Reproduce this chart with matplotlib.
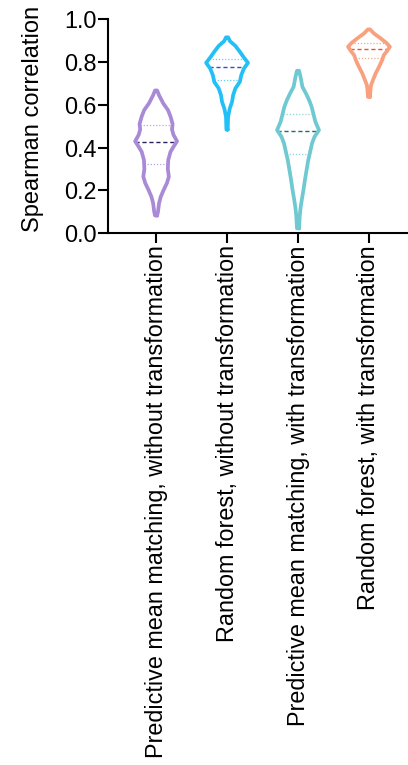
import numpy as np
import matplotlib
matplotlib.use('Agg')
import matplotlib.pyplot as plt

plt.rcParams['font.family'] = ['Liberation Sans', 'DejaVu Sans']

# Groups
LABELS = ['Predictive mean matching, without transformation',
          'Random forest, without transformation',
          'Predictive mean matching, with transformation',
          'Random forest, with transformation']
COLORS = ['#a88ad6', '#22c0f6', '#6fc9d0', '#f9a07e']
MED_COLORS = ['#2a1f5c', '#2e4fcf', '#1d6c6e', '#e6561f']
QRT_COLORS = ['#b9a2e6', '#60d2f6', '#8ed6da', '#f3a88c']

# Density profiles (value, relative density), bottom to top
pmm_raw_y = [0.083, 0.10, 0.14, 0.17, 0.20, 0.235, 0.265, 0.30, 0.342, 0.381, 0.404, 0.43,
             0.46, 0.485, 0.51, 0.545, 0.575, 0.607, 0.645, 0.667]
pmm_raw_d = [0.05, 0.09, 0.14, 0.22, 0.35, 0.52, 0.61, 0.56, 0.58, 0.69, 0.83, 1.00,
             0.83, 0.76, 0.79, 0.69, 0.57, 0.34, 0.14, 0.05]
rf_raw_y = [0.484, 0.544, 0.583, 0.614, 0.645, 0.677, 0.707, 0.739, 0.77, 0.796, 0.82,
            0.845, 0.875, 0.897, 0.915]
rf_raw_d = [0.03, 0.05, 0.13, 0.24, 0.29, 0.40, 0.61, 0.68, 0.81, 1.00, 0.81, 0.63,
            0.40, 0.14, 0.05]
pmm_tr_y = [0.023, 0.078, 0.117, 0.156, 0.202, 0.249, 0.296, 0.342, 0.381, 0.42, 0.451,
            0.482, 0.521, 0.56, 0.591, 0.622, 0.653, 0.684, 0.731, 0.759]
pmm_tr_d = [0.05, 0.08, 0.12, 0.18, 0.26, 0.33, 0.41, 0.49, 0.58, 0.67, 0.79,
            1.00, 0.83, 0.73, 0.65, 0.53, 0.38, 0.21, 0.12, 0.05]
rf_tr_y = [0.637, 0.669, 0.692, 0.715, 0.747, 0.777, 0.809, 0.832, 0.852, 0.871, 0.889,
           0.91, 0.933, 0.952]
rf_tr_d = [0.05, 0.07, 0.10, 0.19, 0.32, 0.48, 0.63, 0.71, 0.87, 1.00, 0.83,
           0.56, 0.24, 0.05]
PROFILE_Y = [pmm_raw_y, rf_raw_y, pmm_tr_y, rf_tr_y]
PROFILE_D = [pmm_raw_d, rf_raw_d, pmm_tr_d, rf_tr_d]

# Quartiles (Q1, median, Q3)
QUARTILES = [[0.323, 0.428, 0.507],
             [0.715, 0.775, 0.812],
             [0.370, 0.480, 0.558],
             [0.820, 0.860, 0.887]]

HALF_W = 0.295

fig = plt.figure(figsize=(4.08, 7.65), dpi=100)
ax = fig.add_axes([0.265, 0.695, 0.735, 0.280])

for i in range(len(LABELS)):
    y = np.array(PROFILE_Y[i])
    d = np.array(PROFILE_D[i])*HALF_W
    xs = np.concatenate([i+d, (i-d)[::-1], [i+d[0]]])
    ys = np.concatenate([y, y[::-1], [y[0]]])
    ax.plot(xs, ys, color=COLORS[i], lw=2.7, solid_joinstyle='round', solid_capstyle='round', zorder=3)
    for k, q in enumerate(QUARTILES[i]):
        w = np.interp(q, y, d)
        if k == 1:
            ax.plot([i-w, i+w], [q, q], color=MED_COLORS[i], lw=1.0, ls=(0, (3, 2)), zorder=2)
        else:
            ax.plot([i-w, i+w], [q, q], color=QRT_COLORS[i], lw=0.9, ls=(0, (1, 1.5)), zorder=2)

ax.set_xlim(-0.676, 3.55)
ax.set_ylim(0, 1.0)
ax.set_yticks(np.arange(0, 1.01, 0.2))
ax.set_yticklabels(['{:.1f}'.format(v) for v in np.arange(0, 1.01, 0.2)])
ax.set_xticks(range(len(LABELS)))
ax.set_xticklabels(LABELS, rotation=90, va='top', ha='center')
for s in ['top', 'right']:
    ax.spines[s].set_visible(False)
for s in ['left', 'bottom']:
    ax.spines[s].set_linewidth(1.5)
ax.tick_params(axis='both', width=1.5, length=7, pad=1.5, labelsize=16.8, color='black')
fig.text(0.08, 0.845, 'Spearman correlation', rotation=90, ha='center', va='center', fontsize=17)

fig.savefig('out.png', dpi=100)
